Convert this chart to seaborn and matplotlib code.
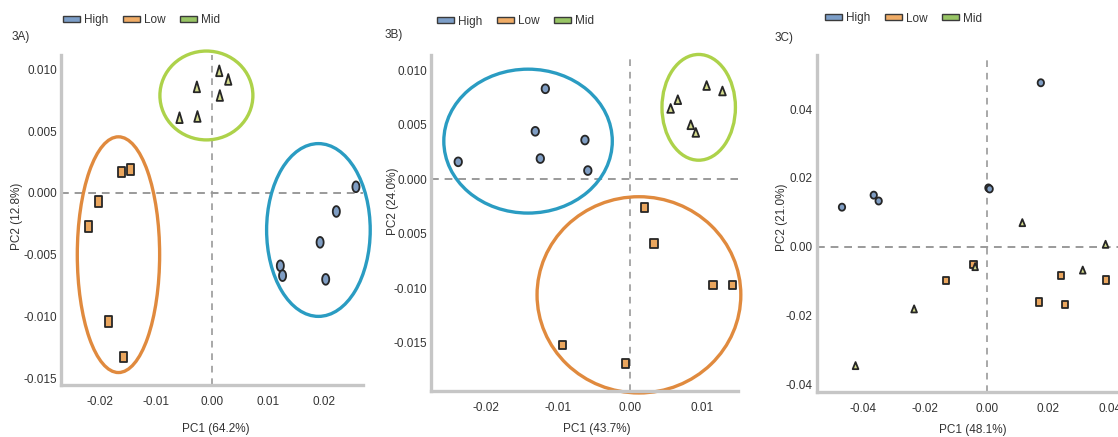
import numpy as np
import pandas as pd
import matplotlib
matplotlib.use("Agg")
import matplotlib.pyplot as plt
from matplotlib.patches import Ellipse, Patch
from matplotlib.path import Path
import seaborn as sns

# ---- data -------------------------------------------------------------
groups = ["High", "Low", "Mid"]

# 3A
a_high_x = [0.0257, 0.0222, 0.0193, 0.0122, 0.0126, 0.0203]
a_high_y = [0.0005, -0.0015, -0.0040, -0.0059, -0.0067, -0.0070]
a_low_x = [-0.0161, -0.0146, -0.0202, -0.0221, -0.0184, -0.0158]
a_low_y = [0.0017, 0.0019, -0.0007, -0.0027, -0.0104, -0.0133]
a_mid_x = [-0.0058, -0.0027, -0.0026, 0.0013, 0.0029, 0.0014]
a_mid_y = [0.0061, 0.0086, 0.0062, 0.0099, 0.0092, 0.0079]

# 3B
b_high_x = [-0.0239, -0.0118, -0.0132, -0.0125, -0.0063, -0.0059]
b_high_y = [0.0016, 0.0083, 0.0044, 0.0019, 0.0036, 0.0008]
b_low_x = [0.0020, 0.0033, 0.0115, 0.0142, -0.0094, -0.0007]
b_low_y = [-0.0026, -0.0059, -0.0097, -0.0097, -0.0152, -0.0169]
b_mid_x = [0.0056, 0.0066, 0.0106, 0.0128, 0.0084, 0.0091]
b_mid_y = [0.0065, 0.0073, 0.0086, 0.0081, 0.0050, 0.0043]

# 3C
c_high_x = [-0.0469, -0.0366, -0.0350, 0.0006, 0.0010, 0.0176]
c_high_y = [0.0115, 0.0150, 0.0133, 0.0171, 0.0168, 0.0477]
c_low_x = [-0.0042, -0.0131, 0.0242, 0.0387, 0.0171, 0.0255]
c_low_y = [-0.0051, -0.0099, -0.0085, -0.0097, -0.0161, -0.0167]
c_mid_x = [0.0116, 0.0386, -0.0037, 0.0312, -0.0235, -0.0425]
c_mid_y = [0.0070, 0.0007, -0.0058, -0.0068, -0.0181, -0.0346]

# confidence ellipses: (group, centre x, centre y, width, height)
a_ellipses = [("Mid", -0.0010, 0.0079, 0.0166, 0.0072),
              ("Low", -0.0167, -0.0050, 0.0147, 0.0191),
              ("High", 0.0190, -0.0030, 0.0185, 0.0140)]
b_ellipses = [("High", -0.0142, 0.0035, 0.0234, 0.0132),
              ("Mid", 0.0095, 0.0066, 0.0102, 0.0097),
              ("Low", 0.0012, -0.0106, 0.0283, 0.0180)]

panel_titles = ["3A)", "3B)", "3C)"]
x_labels = ["PC1 (64.2%)", "PC1 (43.7%)", "PC1 (48.1%)"]
y_labels = ["PC2 (12.8%)", "PC2 (24.0%)", "PC2 (21.0%)"]

a_xticks = [-0.02, -0.01, 0.00, 0.01, 0.02]
a_xticklabels = ["-0.02", "-0.01", "0.00", "0.01", "0.02"]
a_yticks = [0.010, 0.005, 0.000, -0.005, -0.010, -0.015]
a_yticklabels = ["0.010", "0.005", "0.000", "-0.005", "-0.010", "-0.015"]
b_xticks = [-0.02, -0.01, 0.00, 0.01]
b_xticklabels = ["-0.02", "-0.01", "0.00", "0.01"]
b_yticks = [0.010, 0.005, 0.000, -0.005, -0.010, -0.015]
b_yticklabels = ["0.010", "0.005", "0.000", "0.005", "-0.010", "-0.015"]
c_xticks = [-0.04, -0.02, 0.00, 0.02, 0.04]
c_xticklabels = ["-0.04", "-0.02", "0.00", "0.02", "0.04"]
c_yticks = [0.04, 0.02, 0.00, -0.02, -0.04]
c_yticklabels = ["0.04", "0.02", "0.00", "-0.02", "-0.04"]

# ---- styling ----------------------------------------------------------
sns.set_style("white")
plt.rcParams["font.family"] = ["Liberation Sans", "DejaVu Sans"]

fill = {"High": "#7f9dc3", "Low": "#eaa65e", "Mid": "#d4db8c"}
legend_fill = {"High": "#7c9ec8", "Low": "#f0ac66", "Mid": "#98c565"}
ring = {"High": "#2a9cc2", "Low": "#e08a3e", "Mid": "#add24a"}
edge = "#262626"
spine_col = "#c6c6c6"
dash_col = "#9a9a9a"
text_col = "#333333"


def closed(verts):
    return Path(verts + [verts[0]], closed=True)


def shape_markers(aspect):
    t = np.linspace(0, 2 * np.pi, 33)[:-1]
    circ = [(0.5 * aspect * np.cos(a), 0.5 * np.sin(a)) for a in t]
    rect = [(-0.5 * aspect, -0.5), (0.5 * aspect, -0.5),
            (0.5 * aspect, 0.5), (-0.5 * aspect, 0.5)]
    tri = [(-0.45 * aspect, -0.5), (0.45 * aspect, -0.5), (0.0, 0.5)]
    return {"High": closed(circ), "Low": closed(rect), "Mid": closed(tri)}


def frame(xs, ys):
    rows = []
    for g, (x, y) in zip(groups, zip(xs, ys)):
        for xi, yi in zip(x, y):
            rows.append({"PC1": xi, "PC2": yi, "group": g})
    return pd.DataFrame(rows)


W, H = 1118, 437
fig = plt.figure(figsize=(W / 100, H / 100), dpi=100)


def px_axes(left, right, top, bottom):
    return fig.add_axes([left / W, 1 - bottom / H, (right - left) / W, (bottom - top) / H])


panels = [
    dict(ax=px_axes(61, 363, 55, 385), xlim=(-0.02696, 0.02696), ylim=(-0.01556, 0.01118),
         df=frame([a_high_x, a_low_x, a_mid_x], [a_high_y, a_low_y, a_mid_y]),
         ell=a_ellipses, aspect=0.66, s=60, xt=(a_xticks, a_xticklabels), yt=(a_yticks, a_yticklabels),
         xlab=(0.513, -0.133), ylab=(-0.146, 0.512), title=(12, 37), leg=(63, 20)),
    dict(ax=px_axes(431, 738.3, 55, 391), xlim=(-0.02768, 0.0150), ylim=(-0.01942, 0.0114),
         df=frame([b_high_x, b_low_x, b_mid_x], [b_high_y, b_low_y, b_mid_y]),
         ell=b_ellipses, aspect=0.85, s=40, xt=(b_xticks, b_xticklabels), yt=(b_yticks, b_yticklabels),
         xlab=(0.54, -0.113), ylab=(-0.125, 0.564), title=(385, 35), leg=(437, 21.5)),
    dict(ax=px_axes(816.7, 1125.3, 55, 391.7), xlim=(-0.0551, 0.0450), ylim=(-0.04219, 0.05578),
         df=frame([c_high_x, c_low_x, c_mid_x], [c_high_y, c_low_y, c_mid_y]),
         ell=[], aspect=0.9, s=26, xt=(c_xticks, c_xticklabels), yt=(c_yticks, c_yticklabels),
         xlab=(0.506, -0.114), ylab=(-0.113, 0.519), title=(775, 38), leg=(825, 18.5)),
]

for i, p in enumerate(panels):
    ax = p["ax"]
    ax.set_xlim(*p["xlim"])
    ax.set_ylim(*p["ylim"])

    # reference lines through the origin
    ax.axhline(0, color=dash_col, lw=1.4, ls=(0, (4, 3)), zorder=1)
    ax.axvline(0, color=dash_col, lw=1.2, ls=(0, (4, 3.5)), zorder=1)

    for g, cx, cy, w, h in p["ell"]:
        ax.add_patch(Ellipse((cx, cy), w, h, fill=False, ec=ring[g], lw=2.4,
                             clip_on=False, zorder=2))

    sns.scatterplot(data=p["df"], x="PC1", y="PC2", hue="group", style="group",
                    hue_order=groups, style_order=groups, palette=fill,
                    markers=shape_markers(p["aspect"]), s=p["s"], edgecolor=edge,
                    linewidth=1.3, legend=False, ax=ax, zorder=3, clip_on=False)

    sns.despine(ax=ax)
    for side in ("left", "bottom"):
        ax.spines[side].set_color(spine_col)
        ax.spines[side].set_linewidth(2.4)
    ax.set_xticks(p["xt"][0], p["xt"][1])
    ax.set_yticks(p["yt"][0], p["yt"][1])
    ax.tick_params(axis="both", length=0, labelsize=8.5, colors=text_col)
    ax.tick_params(axis="x", pad=8)
    ax.tick_params(axis="y", pad=3)

    ax.set_xlabel(x_labels[i], fontsize=8.5, color=text_col)
    ax.set_ylabel(y_labels[i], fontsize=8.5, color=text_col)
    ax.xaxis.set_label_coords(*p["xlab"])
    ax.yaxis.set_label_coords(*p["ylab"])
    ax.xaxis.label.set_va("center")
    ax.yaxis.label.set_va("center")

    tx, ty = p["title"]
    fig.text(tx / W, 1 - ty / H, panel_titles[i], fontsize=8.5, color=text_col,
             ha="left", va="center")

    handles = [Patch(facecolor=legend_fill[g], edgecolor="#3a3a3a", lw=1.0, label=g)
               for g in groups]
    lx, ly = p["leg"]
    ax.legend(handles=handles, loc="center left", bbox_to_anchor=(lx / W, 1 - ly / H),
              bbox_transform=fig.transFigure, ncol=3, frameon=False, fontsize=8.5,
              handlelength=1.45, handleheight=0.45, handletextpad=0.35,
              columnspacing=1.2, borderpad=0, borderaxespad=0, labelcolor=text_col)

fig.savefig("out.png", dpi=100)
